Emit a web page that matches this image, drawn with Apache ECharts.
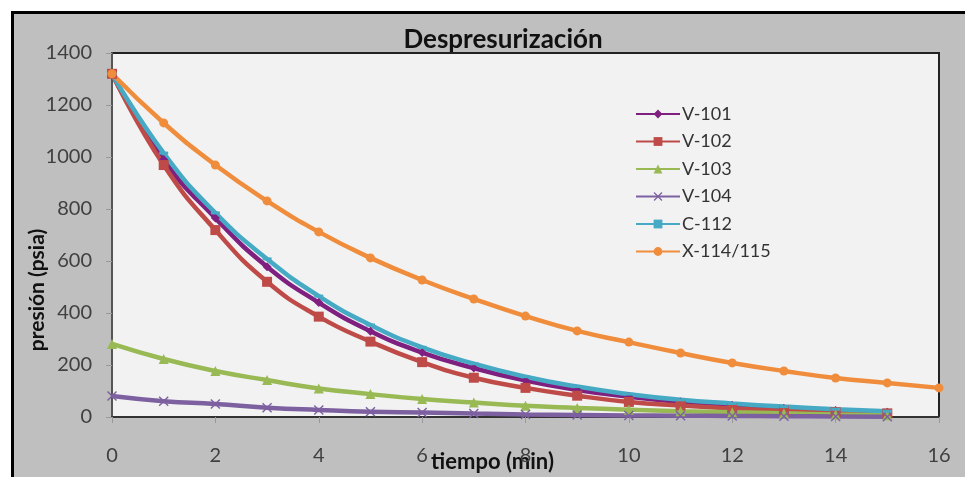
<!DOCTYPE html>
<html>
<head>
<meta charset="utf-8">
<script src="https://cdn.jsdelivr.net/npm/echarts@6/dist/echarts.min.js"></script>
<style>
  html, body { margin: 0; padding: 0; background: #ffffff; }
  #wrap { position: relative; width: 965px; height: 477px; overflow: hidden; }
  #bg { position: absolute; left: 11px; top: 11px; width: 1000px; height: 500px;
        background: #bfbfbf; border-left: 3px solid #000; border-top: 3px solid #000; }
  #chart { position: absolute; left: 0; top: 0; width: 965px; height: 477px; }
</style>
</head>
<body>
<div id="wrap"><div id="bg"></div><div id="chart"></div></div>
<script>
const times = [0, 1, 2, 3, 4, 5, 6, 7, 8, 9, 10, 11, 12, 13, 14, 15, 16];
const seriesNames = ['V-101', 'V-102', 'V-103', 'V-104', 'C-112', 'X-114/115'];
const v101 = [1320, 990, 765, 578, 440, 330, 248, 188, 140, 104, 78, 58, 44, 33, 25, 18];
const v102 = [1320, 969, 719, 520, 386, 290, 211, 151, 112, 82, 58, 44, 33, 25, 19, 14];
const v103 = [281, 223, 177, 142, 110, 88, 69, 56, 43, 35, 28, 22, 18, 14, 10, 7];
const v104 = [81, 61, 50, 36, 27, 20, 17, 13, 10, 8, 6, 5, 4, 3, 2, 1];
const c112 = [1320, 1015, 785, 608, 465, 354, 268, 205, 155, 117, 88, 66, 52, 40, 30, 22];
const x114 = [1320, 1131, 969, 831, 712, 612, 527, 454, 388, 331, 288, 246, 208, 177, 150, 131, 112];

const colors = ['#7f1f7f', '#be4b48', '#98b954', '#7d60a0', '#46aac5', '#ef8d3c'];
const symbols = [
  'diamond',
  'rect',
  'triangle',
  'path://M0,1L1,0L5,4L9,0L10,1L6,5L10,9L9,10L5,6L1,10L0,9L4,5Z',
  'path://M0,0L10,0L10,3L0,3Z',
  'circle'
];
const sizes = [9, 10, 10, 10, [9, 3], 9];
const allData = [v101, v102, v103, v104, c112, x114];

const FONT = 'Lato, "Open Sans", sans-serif';

const chart = echarts.init(document.getElementById('chart'), null, { renderer: 'canvas' });
chart.setOption({
  backgroundColor: 'transparent',
  animation: false,
  textStyle: { fontFamily: FONT },
  title: {
    text: 'Despresurización',
    left: 498,
    top: 22,
    textAlign: 'center',
    textStyle: { fontFamily: FONT, fontWeight: 'bold', fontSize: 26, color: '#111' }
  },
  legend: {
    orient: 'vertical',
    left: 630,
    top: 100,
    itemWidth: 44,
    itemHeight: 11,
    itemGap: 9.5,
    data: seriesNames,
    textStyle: { fontFamily: FONT, fontSize: 18, color: '#333', padding: [0, 0, 0, -3] }
  },
  grid: {
    left: 112, top: 53, right: 26, bottom: 60,
    outerBoundsMode: 'none',
    containLabel: false,
    show: true,
    backgroundColor: '#f2f2f2',
    borderColor: '#222',
    borderWidth: 2
  },
  xAxis: {
    type: 'value',
    min: 0, max: 16, interval: 2,
    name: 'tiempo (min)',
    nameLocation: 'middle',
    nameGap: 34,
    nameMoveOverlap: false,
    nameTextStyle: { fontFamily: FONT, fontWeight: 'bold', fontSize: 22, color: '#111', padding: [0, 66, 0, 0] },
    axisLine: { show: true, lineStyle: { color: '#333', width: 2 } },
    axisTick: { show: true, length: 6, lineStyle: { color: '#999' } },
    axisLabel: { margin: 29, fontSize: 20, color: '#404040', fontFamily: FONT },
    splitLine: { show: false }
  },
  yAxis: {
    type: 'value',
    min: 0, max: 1400, interval: 200,
    name: 'presión (psia)',
    nameLocation: 'middle',
    nameGap: 64,
    nameMoveOverlap: false,
    nameTextStyle: { fontFamily: FONT, fontWeight: 'bold', fontSize: 21, color: '#111', padding: [0, 110, 0, 0] },
    axisLine: { show: true, lineStyle: { color: '#555', width: 2 } },
    axisTick: { show: true, length: 6, lineStyle: { color: '#999' } },
    axisLabel: { margin: 20, fontSize: 20, color: '#404040', fontFamily: FONT, formatter: v => String(v) },
    splitLine: { show: false }
  },
  series: seriesNames.map((name, k) => ({
    name: name,
    type: 'line',
    smooth: true,
    symbol: symbols[k],
    symbolSize: sizes[k],
    showAllSymbol: true,
    data: allData[k].map((v, i) => [times[i], v]),
    lineStyle: { color: colors[k], width: 4.5 },
    itemStyle: { color: colors[k], borderWidth: 0 }
  }))
});
</script>
</body>
</html>
